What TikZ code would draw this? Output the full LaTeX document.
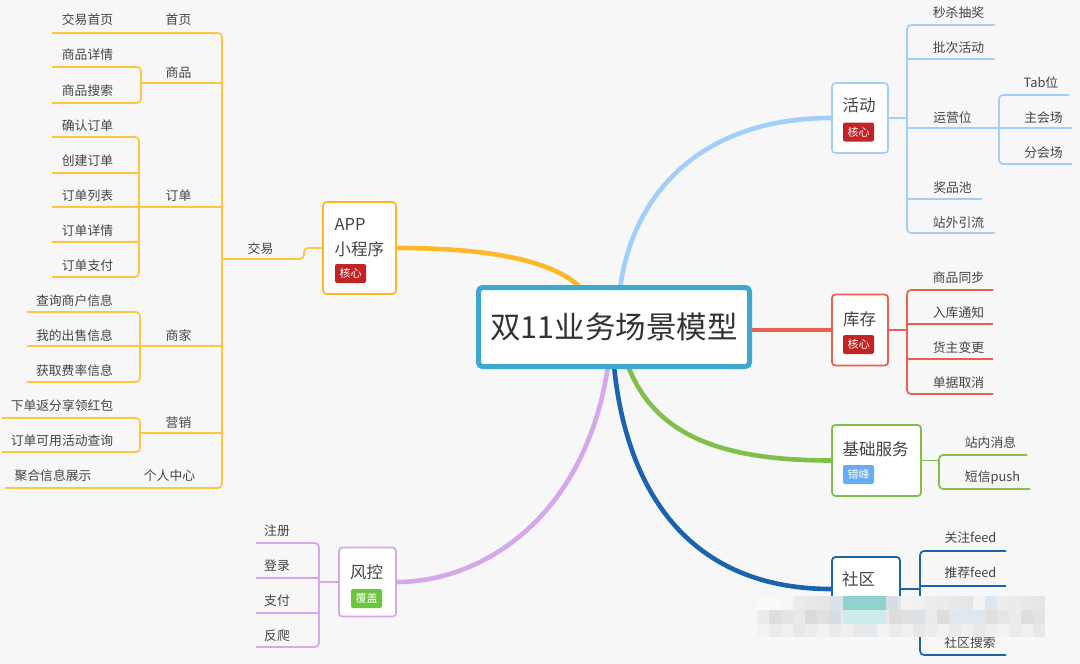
\documentclass[tikz,border=0pt]{standalone}
\usepackage{fontspec}
\setmainfont{Noto Sans CJK SC}
\usetikzlibrary{calc}
\definecolor{bgc}{HTML}{F7F7F7}
\definecolor{cenc}{HTML}{3DA9CF}
\definecolor{titc}{HTML}{333333}
\definecolor{leafc}{HTML}{444444}
\definecolor{nodec}{HTML}{444444}
\definecolor{appc}{HTML}{FDB82A}
\definecolor{appl}{HTML}{FFC540}
\definecolor{actc}{HTML}{A2CFFA}
\definecolor{stkc}{HTML}{E9604F}
\definecolor{basc}{HTML}{7FC04A}
\definecolor{comc}{HTML}{1B63AE}
\definecolor{rskc}{HTML}{D5A7EB}
\definecolor{redt}{HTML}{C22424}
\definecolor{bluet}{HTML}{66ABF3}
\definecolor{greent}{HTML}{6CC53E}
\definecolor{tealb}{HTML}{8DD2CD}
\definecolor{bgrey}{HTML}{CAD5E0}
\pgfdeclarelayer{bg}
\pgfsetlayers{bg,main}
\begin{document}
\begin{tikzpicture}[x=1pt,y=-1pt,
  leaf/.style={font=\fontsize{12.8}{14}\selectfont, text=leafc, inner sep=0pt},
  nodetext/.style={font=\fontsize{16.5}{18}\selectfont, text=nodec, inner sep=0pt},
  box/.style={draw, fill=white, rounded corners=3.5pt, line width=1.8pt, inner sep=0pt},
  tagbox/.style={text=white, rounded corners=2pt, font=\fontsize{11}{12}\selectfont, minimum width=31pt, minimum height=19pt, inner sep=0pt},
  thinline/.style={line width=1.7pt, rounded corners=4pt},
  thickline/.style={line width=4.6pt, line cap=round}]
\begin{pgfonlayer}{bg}
\fill[bgc] (0,0) rectangle (1080,664);
\end{pgfonlayer}
\useasboundingbox (0,0) rectangle (1080,664);

% ---------- central ----------
\node[draw=cenc, line width=5pt, fill=white, rounded corners=4pt, minimum width=271pt, minimum height=79pt, inner sep=0pt, font=\fontsize{30.5}{34}\selectfont, text=titc] (root) at (614,327) {双11业务场景模型};
\coordinate (cApp) at (582,289);
\coordinate (cAct) at (620,289);
\coordinate (cBas) at (628,366);
\coordinate (cCom) at (614,366);
\coordinate (cRsk) at (608,366);

% ---------- APP ----------
\node[box, draw=appc, minimum width=73pt, minimum height=92pt] (app) at (359.5,248) {};
\node[nodetext, anchor=west] (appt1) at (334.5,224) {APP};
\node[nodetext, anchor=west] (appt2) at (334.5,249) {小程序};
\node[tagbox, fill=redt] (appg) at (350.5,273.5) {核心};

% ---------- 活动 ----------
\node[box, draw=actc, minimum width=56pt, minimum height=70pt] (act) at (860,118) {};
\node[nodetext] (actt) at (859,105.5) {活动};
\node[tagbox, fill=redt] (actg) at (858.5,132) {核心};

% ---------- 库存 ----------
\node[box, draw=stkc, minimum width=56pt, minimum height=71pt] (stk) at (860,330) {};
\node[nodetext] (stkt) at (859.5,319.5) {库存};
\node[tagbox, fill=redt] (stkg) at (858.5,344.5) {核心};

% ---------- 基础服务 ----------
\node[box, draw=basc, minimum width=89pt, minimum height=71pt] (bas) at (876.5,460.5) {};
\node[nodetext] (bast) at (875.5,449.5) {基础服务};
\node[tagbox, fill=bluet] (basg) at (858.5,474.5) {错峰};

% ---------- 社区 ----------
\node[box, draw=comc, minimum width=68pt, minimum height=64pt] (com) at (866,589) {};
\node[nodetext] (comt) at (858.5,579.5) {社区};

% ---------- 风控 ----------
\node[box, draw=rskc, minimum width=57pt, minimum height=69pt] (rsk) at (367.5,582) {};
\node[nodetext] (rskt) at (366.5,572.5) {风控};
\node[tagbox, fill=greent] (rskg) at (366.5,598.5) {覆盖};

\begin{pgfonlayer}{bg}
% main connectors
\draw[thickline, appc] (app.east) .. controls (480,248) and (552,258) .. (cApp);
\draw[thickline, actc] (cAct) .. controls (632,195) and (700,118) .. (act.west);
\draw[thickline, stkc] (root.east |- stk.west) -- (stk.west);
\draw[thickline, basc] (cBas) .. controls (655,435) and (720,460.5) .. (bas.west);
\draw[thickline, comc] (cCom) .. controls (628,505) and (700,589) .. (com.west);
\draw[thickline, rskc] (cRsk) .. controls (585,520) and (480,582) .. (rsk.east);

% left (APP) tree
\begin{scope}[thinline, appl]
\draw (52,33) -- (222,33) -- (222,488) -- (5,488);
\draw (222,259) -- (304,259) |- (app.west);
\draw (141,83) -- (222,83);
\draw (52,67) -- (141,67) -- (141,103) -- (52,103);
\draw (52,137) -- (139,137) -- (139,277) -- (52,277);
\draw (52,173) -- (139,173);
\draw (52,207) -- (222,207);
\draw (52,242) -- (139,242);
\draw (27,312) -- (140,312) -- (140,382) -- (27,382);
\draw (27,346) -- (222,346);
\draw (2,418) -- (140,418) -- (140,452) -- (2,452);
\draw (140,433) -- (222,433);
\end{scope}

% 活动 tree
\begin{scope}[thinline, actc]
\draw (act.east) -- (907,118);
\draw (995,25) -- (907,25) -- (907,233) -- (995,233);
\draw (907,59) -- (995,59);
\draw (907,128) -- (999,128);
\draw (907,199) -- (982,199);
\draw (1069,95) -- (999,95) -- (999,164) -- (1072,164);
\draw (999,128) -- (1072,128);
\end{scope}

% 库存 tree
\begin{scope}[thinline, stkc]
\draw (stk.east) -- (907,330);
\draw (993,290) -- (907,290) -- (907,394) -- (993,394);
\draw (907,324) -- (993,324);
\draw (907,359) -- (993,359);
\end{scope}

% 基础服务 tree
\begin{scope}[thinline, basc]
\draw (bas.east) -- (939,460.5);
\draw (1027,455) -- (939,455) -- (939,489) -- (1030,489);
\end{scope}

% 社区 tree
\begin{scope}[thinline, comc]
\draw (com.east) -- (920,589);
\draw (1006,551) -- (920,551) -- (920,655) -- (1006,655);
\draw (920,586) -- (1006,586);
\draw (920,620) -- (1006,620);
\end{scope}

% 风控 tree
\begin{scope}[thinline, rskc]
\draw (rsk.west) -- (319,582);
\draw (256,543) -- (319,543) -- (319,647) -- (256,647);
\draw (256,578) -- (319,578);
\draw (256,613) -- (319,613);
\end{scope}
\end{pgfonlayer}

% ---------- leaf texts: left ----------
\node[leaf] (l1) at (87.5,19.5) {交易首页};
\node[leaf] (g1) at (178.5,19.5) {首页};
\node[leaf] (l2) at (87.5,55) {商品详情};
\node[leaf] (l3) at (87.5,91) {商品搜索};
\node[leaf] (g2) at (178.5,73) {商品};
\node[leaf] (l4) at (87.5,126) {确认订单};
\node[leaf] (l5) at (87.5,161) {创建订单};
\node[leaf] (l6) at (87.5,196) {订单列表};
\node[leaf] (g3) at (178.5,196) {订单};
\node[leaf] (l7) at (87.5,231) {订单详情};
\node[leaf] (l8) at (87.5,266) {订单支付};
\node[leaf] (l9) at (74.5,301) {查询商户信息};
\node[leaf] (l10) at (74.5,336) {我的出售信息};
\node[leaf] (g4) at (178.5,336) {商家};
\node[leaf] (l11) at (74.5,371) {获取费率信息};
\node[leaf] (l12) at (62,406) {下单返分享领红包};
\node[leaf] (g5) at (178.5,423) {营销};
\node[leaf] (l13) at (62,441) {订单可用活动查询};
\node[leaf] (l14) at (53,476) {聚合信息展示};
\node[leaf] (g6) at (169.5,476) {个人中心};
\node[leaf] (g0) at (260.5,249) {交易};

% ---------- leaf texts: 活动 ----------
\node[leaf] (a1) at (958.5,12.5) {秒杀抽奖};
\node[leaf] (a2) at (958.5,47.5) {批次活动};
\node[leaf] (a3) at (952.5,117.5) {运营位};
\node[leaf] (a4) at (952.5,188) {奖品池};
\node[leaf] (a5) at (958.5,222.5) {站外引流};
\node[leaf] (a6) at (1041,83) {Tab位};
\node[leaf] (a7) at (1043.5,117.5) {主会场};
\node[leaf] (a8) at (1043.5,152.5) {分会场};

% ---------- leaf texts: 库存 ----------
\node[leaf] (s1) at (958.5,277.5) {商品同步};
\node[leaf] (s2) at (958.5,312.5) {入库通知};
\node[leaf] (s3) at (958.5,347.5) {货主变更};
\node[leaf] (s4) at (958.5,382.5) {单据取消};

% ---------- leaf texts: 基础服务 ----------
\node[leaf] (b1) at (990.5,442.5) {站内消息};
\node[leaf] (b2) at (992.5,478) {短信push};

% ---------- leaf texts: 社区 ----------
\node[leaf] (c1) at (970.5,538) {关注feed};
\node[leaf] (c2) at (970.5,573) {推荐feed};
\node[leaf] (c4) at (970,643) {社区搜索};

% ---------- leaf texts: 风控 ----------
\node[leaf] (r1) at (277,531) {注册};
\node[leaf] (r2) at (277,566) {登录};
\node[leaf] (r3) at (277,601) {支付};
\node[leaf] (r4) at (277,636) {反爬};

% ---------- mosaic blur ----------
\foreach \i in {0,...,23}{
  \pgfmathtruncatemacro{\pa}{5+mod(\i*7,6)}
  \pgfmathtruncatemacro{\pb}{8+mod(\i*5,7)}
  \pgfmathtruncatemacro{\pc}{5+mod(\i*3,5)}
  \fill[black!\pa] (757+\i*12,596) rectangle ++(12.2,14.2);
  \fill[black!\pb] (757+\i*12,610) rectangle ++(12.2,14.2);
  \fill[black!\pc] (757+\i*12,624) rectangle ++(12.2,13);
}
\fill[bgrey!70!white] (829,596) rectangle ++(14,14);
\fill[tealb] (843,596) rectangle ++(43,14);
\fill[tealb!45!white] (843,610) rectangle ++(43,14);
\fill[bgrey!80!white] (886,596) rectangle ++(12,14);
\fill[bgrey!80!white] (829,610) rectangle ++(12,14);
\fill[bgrey!70!white] (913,610) rectangle ++(12,14);
\fill[bgrey!60!white] (949,610) rectangle ++(36,14);
\fill[bgrey!60!white] (985,596) rectangle ++(12,14);
\fill[bgrey!50!white] (865,624) rectangle ++(12,13);
\fill[white,opacity=0.6] (757,596) rectangle ++(36,14);
\end{tikzpicture}
\end{document}
